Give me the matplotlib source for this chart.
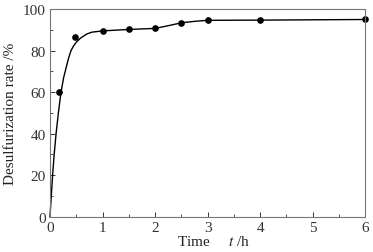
import matplotlib
matplotlib.use("Agg")
import matplotlib.pyplot as plt
from matplotlib.ticker import MultipleLocator

# Measured data points
t_pts = [0.18, 0.48, 1.0, 1.5, 2.0, 2.5, 3.0, 4.0, 6.0]
y_pts = [60.0, 86.8, 89.4, 90.2, 90.7, 93.4, 94.6, 94.7, 95.0]

# Fitted curve
t_curve = [0, 0.02, 0.05, 0.08, 0.116, 0.16, 0.21, 0.26, 0.3, 0.35, 0.4, 0.45, 0.5, 0.58,
           0.7, 0.8, 1.0, 1.5, 2.0, 2.25, 2.5, 2.75, 3.0, 4.0, 6.0]
y_curve = [0, 8, 20, 30, 40, 50, 60, 67, 71, 76, 80, 82.3, 84, 86,
           88, 88.9, 89.5, 90.2, 90.7, 92.0, 93.4, 94.1, 94.6, 94.7, 95.0]

plt.rcParams['font.family'] = ['Liberation Serif', 'DejaVu Serif']
plt.rcParams['mathtext.fontset'] = 'stix'

fig = plt.figure(figsize=(3.73, 2.53), dpi=100)
ax = fig.add_axes([0.134, 0.140, 0.845, 0.820])

ax.plot(t_curve, y_curve, color='black', lw=1.0, clip_on=False)
ax.plot(t_pts, y_pts, 'o', color='black', ms=3.8, clip_on=False)

ax.set_xlim(0, 6)
ax.set_ylim(0, 100)
ax.xaxis.set_major_locator(MultipleLocator(1))
ax.xaxis.set_minor_locator(MultipleLocator(0.5))
ax.yaxis.set_major_locator(MultipleLocator(20))
ax.yaxis.set_minor_locator(MultipleLocator(10))
ax.tick_params(which='both', direction='in', labelsize=11, colors='#333333',
               top=False, right=False, pad=3)
ax.tick_params(which='major', length=3.5, width=0.7)
ax.tick_params(which='minor', length=2, width=0.6)
for s in ax.spines.values():
    s.set_color('#777777')
    s.set_linewidth(0.8)

ax.set_xlabel('Time     $t$ /h', fontsize=11, color='#222222', labelpad=0)
ax.xaxis.set_label_coords(0.52, -0.085)
ax.set_ylabel('Desulfurization rate /%', fontsize=11, color='#222222', labelpad=4)

fig.savefig('out.png', dpi=100)
